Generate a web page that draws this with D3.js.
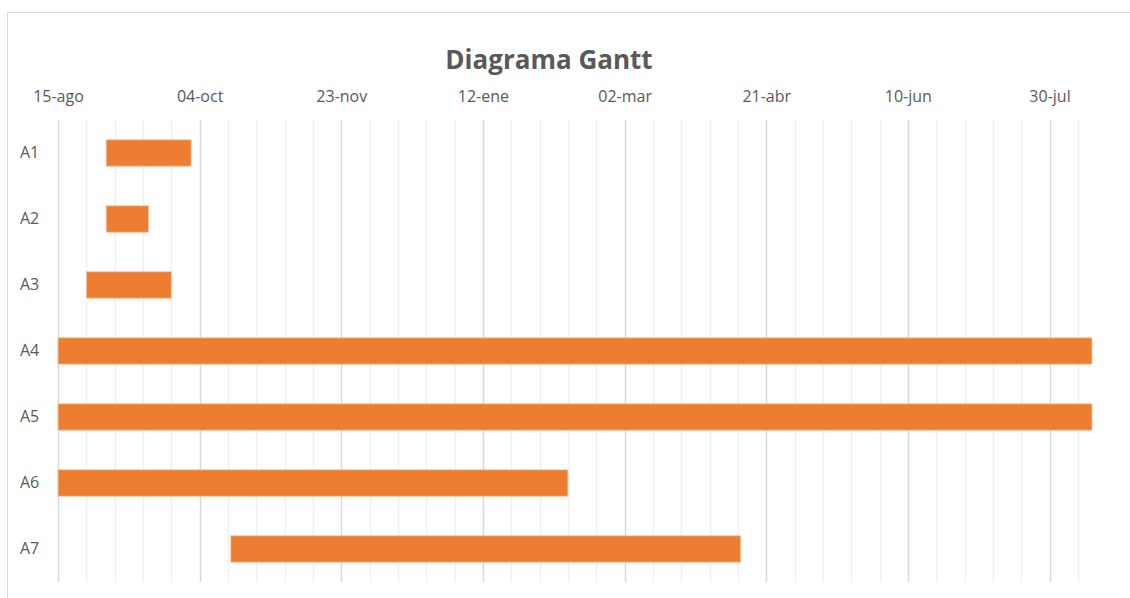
<!DOCTYPE html>
<html>
<head>
<meta charset="utf-8">
<script src="https://cdn.jsdelivr.net/npm/d3@7"></script>
<style>
  body { margin: 0; background: #fff; }
  text { font-family: "Open Sans", "Liberation Sans", sans-serif; fill: #595959; }
</style>
</head>
<body>
<script>
// data
var tasks = ["A1", "A2", "A3", "A4", "A5", "A6", "A7"];
var startDates = ["2019-09-01", "2019-09-01", "2019-08-25", "2019-08-15", "2019-08-15", "2019-08-15", "2019-10-15"];
var durations = [30, 15, 30, 365, 365, 180, 180];
var tickDates = ["2019-08-15", "2019-10-04", "2019-11-23", "2020-01-12", "2020-03-02", "2020-04-21", "2020-06-10", "2020-07-30"];
var axisMin = "2019-08-15";
var axisMax = "2020-08-14";

var monthNames = ["ene", "feb", "mar", "abr", "may", "jun", "jul", "ago", "sep", "oct", "nov", "dic"];
var parse = d3.utcParse("%Y-%m-%d");
var fmt = function(d) { return d3.utcFormat("%d")(d) + "-" + monthNames[d.getUTCMonth()]; };

var width = 1130;
var height = 598;
var margin = { left: 58, right: 38, top: 120, bottom: 16 };

var svg = d3.select("body")
    .append("svg")
    .attr("width", width)
    .attr("height", height);

// chart border (only top and left visible)
svg.append("rect")
    .attr("x", 7.5)
    .attr("y", 12.5)
    .attr("width", width + 10)
    .attr("height", height + 10)
    .attr("fill", "none")
    .attr("stroke", "#d9d9d9");

var x = d3.scaleUtc()
    .domain([parse(axisMin), parse(axisMax)])
    .range([margin.left, width - margin.right]);

var y = d3.scaleBand()
    .domain(tasks)
    .range([margin.top, height - margin.bottom])
    .paddingInner(0.6)
    .paddingOuter(0.3);

// minor grid every 10 days
var minor = d3.utcDay.every(1).range(parse(axisMin), parse(axisMax))
    .filter(function(d, i) { return i % 10 === 0 && i % 50 !== 0; });
svg.append("g")
    .selectAll("line")
    .data(minor)
    .enter()
    .append("line")
    .attr("x1", d => Math.round(x(d)) + 0.5)
    .attr("x2", d => Math.round(x(d)) + 0.5)
    .attr("y1", margin.top)
    .attr("y2", height - margin.bottom)
    .attr("stroke", "#f0f0f0")
    .attr("stroke-width", 1.5);

// major grid
var majors = tickDates.map(parse);
svg.append("g")
    .selectAll("line")
    .data(majors)
    .enter()
    .append("line")
    .attr("x1", d => Math.round(x(d)) + 0.5)
    .attr("x2", d => Math.round(x(d)) + 0.5)
    .attr("y1", margin.top)
    .attr("y2", height - margin.bottom)
    .attr("stroke", "#d9d9d9")
    .attr("stroke-width", 1.5);

// top axis labels
var xAxis = d3.axisTop(x)
    .tickValues(majors)
    .tickFormat(fmt)
    .tickSize(0)
    .tickPadding(0);

var gx = svg.append("g")
    .attr("transform", "translate(0, 102)")
    .call(xAxis);
gx.select(".domain").remove();
gx.selectAll("text")
    .attr("font-size", "16px")
    .attr("font-family", null)
    .attr("fill", "#595959");

// left axis labels
var yAxis = d3.axisLeft(y).tickSize(0).tickPadding(0);
var gy = svg.append("g")
    .attr("transform", "translate(20, 0)")
    .call(yAxis);
gy.select(".domain").remove();
gy.selectAll("text")
    .attr("text-anchor", "start")
    .attr("font-size", "16px")
    .attr("font-family", null)
    .attr("fill", "#595959");

// bars
svg.append("g")
    .selectAll("rect")
    .data(tasks)
    .enter()
    .append("rect")
    .attr("x", (d, i) => x(parse(startDates[i])))
    .attr("y", d => y(d))
    .attr("width", (d, i) => x(d3.utcDay.offset(parse(startDates[i]), durations[i])) - x(parse(startDates[i])))
    .attr("height", y.bandwidth())
    .attr("fill", "#ed7d31")
    .attr("stroke", "#f8c6a6")
    .attr("stroke-width", 0.8);

// title
svg.append("text")
    .attr("x", 549)
    .attr("y", 69)
    .attr("text-anchor", "middle")
    .attr("font-size", "26px")
    .attr("font-weight", "bold")
    .text("Diagrama Gantt");
</script>
</body>
</html>
